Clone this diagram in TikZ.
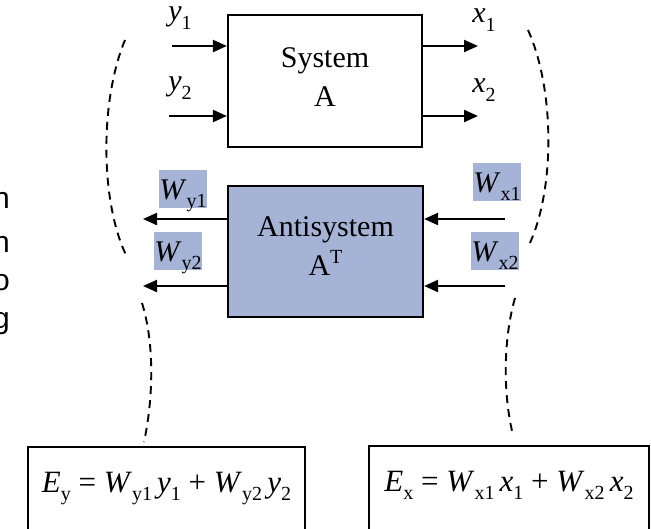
\documentclass[tikz,border=0pt]{standalone}
\usepackage{fontspec}
\setmainfont{Liberation Serif}
\newfontfamily\lsans{Liberation Sans}
\usetikzlibrary{arrows.meta}
\definecolor{antiblue}{RGB}{165,179,215}
\newcommand\sbs[1]{\raisebox{-0.28em}{\fontsize{20}{20}\selectfont #1}}
\newcommand\spx[1]{\raisebox{0.42em}{\fontsize{20}{20}\selectfont #1}}
\tikzset{
  sysbox/.style={draw, line width=2.2pt, inner sep=0pt},
  boxtext/.style={inner sep=0pt, align=center, font=\fontsize{30}{39}\selectfont},
  sig/.style={line width=2.2pt, -{Triangle[length=14pt,width=12pt]}},
  brace/.style={line width=1.9pt, dash pattern=on 8pt off 6pt},
  lab/.style={inner sep=0pt, font=\fontsize{30}{30}\selectfont},
  wlab/.style={fill=antiblue, inner sep=0pt, minimum width=46pt, minimum height=38pt,
    text height=21pt, text depth=0pt, font=\fontsize{30}{30}\selectfont},
  eqbox/.style={draw, line width=2.2pt, inner sep=0pt, minimum height=86pt,
    text height=22pt, text depth=18pt, font=\fontsize{31}{31}\selectfont},
  cut/.style={font=\lsans\fontsize{30}{30}\selectfont, inner sep=0pt, anchor=base east}
}
\begin{document}
\begin{tikzpicture}[x=1pt,y=-1pt]
\useasboundingbox (0,0) rectangle (651,528);
\begin{scope}
\clip (0,0) rectangle (651,528);
% text cut off at the left edge
\node[cut] (c1) at (10,208) {n};
\node[cut] (c2) at (10,252) {n};
\node[cut] (c3) at (10,290) {o};
\node[cut] (c4) at (10,328) {g};

% System A
\node[sysbox, minimum width=194pt, minimum height=132pt] (sys) at (325,81) {};
\node[boxtext] (systxt) at ([yshift=4pt]sys.center) {System\\A};
\coordinate (yin1) at (172,46);
\coordinate (yin2) at (169,116);
\coordinate (xout1) at (478,46);
\coordinate (xout2) at (478,116);
\draw[sig] (yin1) -- (yin1 -| sys.west);
\draw[sig] (yin2) -- (yin2 -| sys.west);
\draw[sig] (xout1 -| sys.east) -- (xout1);
\draw[sig] (xout2 -| sys.east) -- (xout2);
\node[lab] (ly1) at (180,18) {\textit{y}\sbs{1}};
\node[lab] (ly2) at (180,88) {\textit{y}\sbs{2}};
\node[lab] (lx1) at (484,20) {\textit{x}\sbs{1}};
\node[lab] (lx2) at (484,90) {\textit{x}\sbs{2}};

% Antisystem
\node[sysbox, fill=antiblue, minimum width=195pt, minimum height=131pt] (anti) at (325.5,251.5) {};
\node[boxtext] (antitxt) at ([yshift=5pt]anti.center) {Antisystem\\A\spx{T}};
\coordinate (wyout1) at (143,219);
\coordinate (wyout2) at (143,286);
\coordinate (wxin1) at (505,219);
\coordinate (wxin2) at (505,286);
\draw[sig] (wyout1 -| anti.west) -- (wyout1);
\draw[sig] (wyout2 -| anti.west) -- (wyout2);
\draw[sig] (wxin1) -- (wxin1 -| anti.east);
\draw[sig] (wxin2) -- (wxin2 -| anti.east);
\node[wlab] (wy1) at (183,188.5) {\textit{W}\sbs{y1}};
\node[wlab] (wy2) at (178,251) {\textit{W}\sbs{y2}};
\node[wlab, minimum width=48pt] (wx1) at (497,182) {\textit{W}\sbs{x1}};
\node[wlab] (wx2) at (495,250.5) {\textit{W}\sbs{x2}};

% equation boxes
\node[eqbox, minimum width=277pt] (ey) at (166.5,490)
  {\textit{E}\sbs{y} = \textit{W}\sbs{y1}\,\textit{y}\sbs{1} + \textit{W}\sbs{y2}\,\textit{y}\sbs{2}};
\node[eqbox, minimum width=280pt] (ex) at (509,489)
  {\textit{E}\sbs{x} = \textit{W}\sbs{x1}\,\textit{x}\sbs{1} + \textit{W}\sbs{x2}\,\textit{x}\sbs{2}};

% dashed braces
\coordinate (ula) at (125,40);  \coordinate (ulb) at (126,255);
\coordinate (ura) at (528,30);  \coordinate (urb) at (529,245);
\coordinate (lla) at (142,303); \coordinate (llb) at (144,442);
\coordinate (lra) at (515,298); \coordinate (lrb) at (513,435);
\draw[brace] (ula) .. controls (100,100) and (100,200) .. (ulb);
\draw[brace] (ura) .. controls (555,90) and (555,190) .. (urb);
\draw[brace] (lla) .. controls (155,345) and (153,400) .. (llb);
\draw[brace] (lra) .. controls (503,340) and (503,395) .. (lrb);
\end{scope}
\end{tikzpicture}
\end{document}
